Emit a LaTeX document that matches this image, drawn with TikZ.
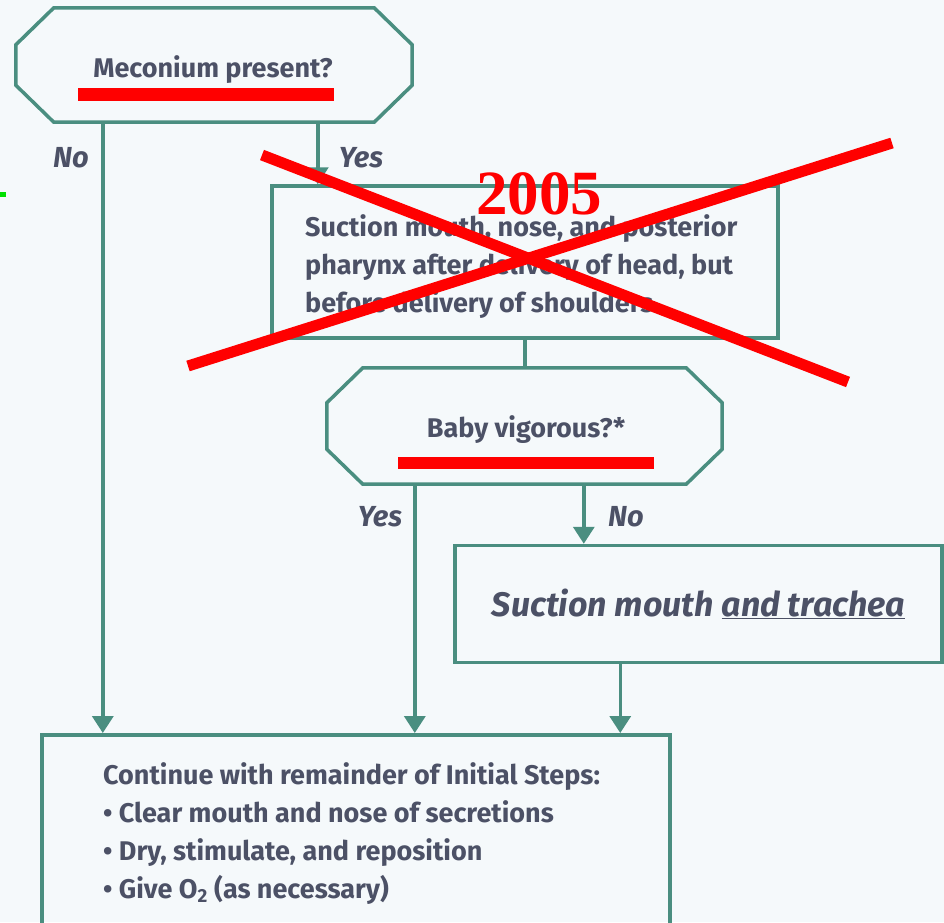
\documentclass[tikz,border=0pt]{standalone}
\usepackage{fontspec}
\setmainfont{Fira Sans}
\newfontfamily\yearfont{Liberation Serif}
\usetikzlibrary{arrows.meta,calc}

\definecolor{flowline}{HTML}{4A8E80}
\definecolor{ink}{HTML}{4C5166}
\definecolor{paper}{HTML}{F5F9FB}
\definecolor{strike}{HTML}{FF0000}
\definecolor{tick}{HTML}{00E000}

\begin{document}
\begin{tikzpicture}[x=1pt,y=-1pt,
  every node/.style={inner sep=0pt, text=ink},
  txt/.style={font=\fontsize{27}{38}\selectfont\bfseries},
  lbl/.style={font=\fontsize{29}{32}\selectfont\bfseries\itshape},
  outline/.style={draw=flowline, line width=3.5pt, line join=miter},
  stepbox/.style={outline, rectangle},
  decision/.style={rectangle},
  edge/.style={draw=flowline, line width=3.5pt},
  flowarrow/.style={edge, -{Triangle[width=21pt,length=17pt]}},
  cross/.style={draw=strike, line width=11pt},
  bar/.style={fill=strike}
]
\clip (0,0) rectangle (944,922);
\fill[paper] (0,0) rectangle (944,922);

% decision: meconium
\node[decision, minimum width=396pt, minimum height=114pt] (q1) at (214,65) {};
\draw[outline] ([xshift=38pt]q1.north west) -- ([xshift=-38pt]q1.north east)
  -- ([yshift=-37pt]q1.north east) -- ([yshift=37pt]q1.south east)
  -- ([xshift=-38pt]q1.south east) -- ([xshift=38pt]q1.south west)
  -- ([yshift=37pt]q1.south west) -- ([yshift=-37pt]q1.north west) -- cycle;
\node[txt] (q1text) at (213,70) {Meconium present?};

% suction of mouth, nose and pharynx
\node[stepbox, minimum width=506pt, minimum height=152pt] (s1) at (525,262) {};
\node[txt, anchor=north west, align=left] (s1text) at (305,214)
  {Suction mouth, nose, and posterior\\pharynx after delivery of head, but\\before delivery of shoulders};

% decision: vigorous baby
\node[decision, minimum width=395pt, minimum height=116pt] (q2) at (524.5,426) {};
\draw[outline] ([xshift=36pt]q2.north west) -- ([xshift=-36pt]q2.north east)
  -- ([yshift=-35pt]q2.north east) -- ([yshift=35pt]q2.south east)
  -- ([xshift=-36pt]q2.south east) -- ([xshift=36pt]q2.south west)
  -- ([yshift=35pt]q2.south west) -- ([yshift=-35pt]q2.north west) -- cycle;
\node[txt] (q2text) at (526,430) {Baby vigorous?*};

% suction of trachea
\node[stepbox, minimum width=487pt, minimum height=117pt,
  font=\fontsize{34}{38}\selectfont\bfseries\itshape]
  (s2) at (698.5,604) {Suction mouth \underline{and trachea}};

% remaining initial steps
\node[stepbox, minimum width=628pt, minimum height=220pt, anchor=north west] (fin) at (40,733) {};
\node[txt, anchor=north west, align=left] (finText) at (103,762)
  {Continue with remainder of Initial Steps:\\
   • Clear mouth and nose of secretions\\
   • Dry, stimulate, and reposition\\
   • Give O\textsubscript{2} (as necessary)};

% connectors
\coordinate (noA) at ([xshift=87pt]q1.south west);
\coordinate (yesA) at ([xshift=302pt]q1.south west);
\coordinate (yesB) at ([xshift=88pt]q2.south west);
\coordinate (noB) at ([xshift=257pt]q2.south west);
\coordinate (down) at ([xshift=167pt]s2.south west);
\draw[flowarrow] (noA) -- (noA |- fin.north);
\draw[flowarrow] (yesA) -- (yesA |- s1.north);
\draw[edge] (s1.south) -- (s1.south |- q2.north);
\draw[flowarrow] (yesB) -- (yesB |- fin.north);
\draw[flowarrow] (noB) -- (noB |- s2.north);
\draw[flowarrow] (down) -- (down |- fin.north);

% branch labels
\node[lbl] (noL1) at (71,158) {No};
\node[lbl] (yesL1) at (361,158) {Yes};
\node[lbl] (yesL2) at (380,517) {Yes};
\node[lbl] (noL2) at (626,517) {No};

% red strike-through marks
\draw[cross] (262,155) -- (848,382);
\draw[cross] (892,143) -- (188,366);
\node[text=strike, font=\fontsize{63}{63}\selectfont\yearfont\bfseries] (year) at (539,194) {2005};
\fill[bar] (78,88) rectangle (334,101);
\fill[bar] (398,457) rectangle (654,469);
\fill[tick] (0,192) rectangle (6,197);
\end{tikzpicture}
\end{document}
